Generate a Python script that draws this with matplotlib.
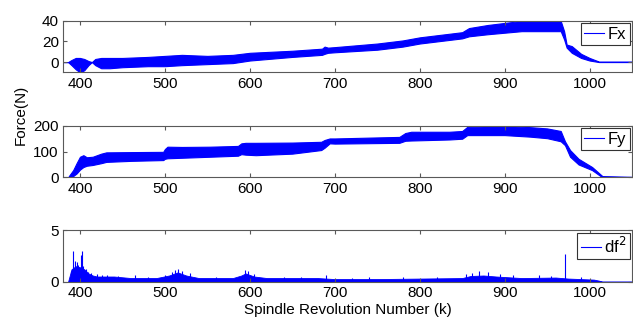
import matplotlib
matplotlib.use("Agg")
import matplotlib.pyplot as plt
from matplotlib.lines import Line2D
import numpy as np

plt.rcParams['font.family'] = ['Liberation Sans', 'DejaVu Sans']

# Fx band (upper / lower envelope)
fx_rev = [380, 386, 390, 395, 400, 405, 410, 414, 418, 425, 435, 450, 480, 500, 520, 550, 580, 600,
          650, 685, 688, 692, 700, 750, 780, 800, 830, 850, 858, 880, 900, 920, 940, 966, 970, 973,
          979, 990, 1000, 1011, 1050]
fx_up = [0, 0, 2, 4, 4, 3, 1, 0, 3, 4, 4, 4, 5, 6, 7, 6, 7, 9,
         11, 13, 15, 14, 14.5, 18, 21, 24, 27, 29, 33, 36, 38, 40, 40, 40, 30, 17,
         15.5, 8, 4, 0.5, 0.5]
fx_lo = [0, 0, -3, -7, -10, -8, -3, 0, -3, -6, -6, -5, -4, -4, -3, -2, -1, 1.5,
         5, 7, 8, 9, 9.5, 12, 15, 18, 21, 23, 25, 27, 28.5, 30, 30, 30, 22, 14,
         9, 4, 1.5, 0, 0]

# Fy band
fy_rev = [380, 386, 388, 392, 396, 400, 404, 408, 415, 425, 431, 460, 498, 500, 503, 520, 553, 586,
          590, 595, 607, 650, 684, 688, 694, 700, 750, 776, 783, 790, 835, 850, 856, 870, 900, 930,
          950, 966, 971, 977, 987, 1003, 1015, 1050]
fy_up = [0, 0, 10, 28, 55, 80, 86, 78, 80, 92, 97, 98, 99, 110, 119, 118, 119, 122,
         132, 134, 134, 135, 138, 145, 151, 151, 155, 157, 172, 177, 177, 180, 196, 197, 199, 195,
         190, 180, 140, 106, 72, 40, 5, 2]
fy_lo = [0, 0, 0, 5, 15, 30, 40, 45, 48, 55, 60, 64, 67, 72, 74, 76, 80, 84,
         90, 88, 86, 92, 106, 115, 132, 131, 133, 134, 142, 143, 147, 150, 164, 164, 164, 158,
         152, 140, 125, 80, 50, 28, 0, 0]

# df^2 base level and the taller spikes
df_rev = [386, 390, 395, 400, 405, 410, 415, 420, 440, 460, 490, 505, 515, 525, 540, 580, 590, 595,
          605, 620, 680, 700, 750, 800, 850, 860, 875, 890, 920, 960, 975, 990, 1005, 1011, 1015, 1050]
df_top = [0.0, 1.2, 1.5, 1.4, 1.2, 0.8, 0.6, 0.5, 0.5, 0.35, 0.35, 0.6, 0.9, 0.6, 0.35, 0.35, 0.6, 0.8,
          0.5, 0.35, 0.35, 0.25, 0.25, 0.3, 0.35, 0.55, 0.6, 0.5, 0.35, 0.4, 0.3, 0.25, 0.2, 0.1, 0, 0]
spike_rev = [389, 392, 394, 396, 398, 401, 402, 404, 407, 410, 413, 420, 426, 432, 445, 465, 480,
             500, 508, 512, 516, 520, 530, 560, 594, 598, 605, 640, 660, 690, 720, 740, 780, 820,
             855, 862, 870, 880, 895, 910, 940, 955, 971, 990]
spike_val = [1.0, 3.0, 2.0, 1.9, 1.6, 2.6, 3.0, 1.5, 1.2, 0.9, 0.8, 0.7, 0.6, 0.65, 0.55, 0.6, 0.5,
             0.6, 0.9, 1.1, 1.2, 1.0, 0.8, 0.5, 1.1, 1.0, 0.7, 0.5, 0.5, 0.6, 0.4, 0.5, 0.45, 0.5,
             0.7, 0.8, 1.0, 0.9, 0.7, 0.6, 0.6, 0.55, 2.7, 0.45]

xticks = [400, 500, 600, 700, 800, 900, 1000]
blue = '#0000ff'

fig = plt.figure(figsize=(6.33, 3.26), dpi=100)
ax1 = fig.add_axes([0.0995, 0.778, 0.899, 0.158])
ax2 = fig.add_axes([0.0995, 0.456, 0.899, 0.158])
ax3 = fig.add_axes([0.0995, 0.136, 0.899, 0.158])

ax1.fill_between(fx_rev, fx_lo, fx_up, color=blue, lw=0.8)
ax2.fill_between(fy_rev, fy_lo, fy_up, color=blue, lw=0.8)
ax3.fill_between(df_rev, 0, df_top, color=blue, lw=0.6)
ax3.vlines(spike_rev, 0, spike_val, color=blue, lw=0.8)

ax1.set_ylim(-10, 40)
ax1.set_yticks([0, 20, 40])
ax2.set_ylim(0, 200)
ax2.set_yticks([0, 100, 200])
ax3.set_ylim(0, 5)
ax3.set_yticks([0, 5])

labels = ['Fx', 'Fy', 'df$^2$']
for ax, lab in zip([ax1, ax2, ax3], labels):
    ax.set_xlim(380, 1050)
    ax.set_xticks(xticks)
    ax.tick_params(direction='in', top=True, right=True, length=3, labelsize=11,
                   color='0.35', pad=3)
    for s in ax.spines.values():
        s.set_color('0.35')
        s.set_linewidth(0.8)
    h = Line2D([0], [0], color=blue, lw=0.8)
    leg = ax.legend([h], [lab], loc='upper right', fontsize=12, handlelength=1.2,
                    handletextpad=0.2, borderpad=0.2, borderaxespad=0.15,
                    fancybox=False, framealpha=1)
    leg.get_frame().set_edgecolor('0.2')
    leg.get_frame().set_linewidth(0.8)

ax3.set_xlabel('Spindle Revolution Number (k)', fontsize=11, labelpad=2)
fig.text(0.033, 0.647, 'Force(N)', rotation=90, fontsize=11, ha='center', va='center')

fig.savefig('out.png', dpi=100)
